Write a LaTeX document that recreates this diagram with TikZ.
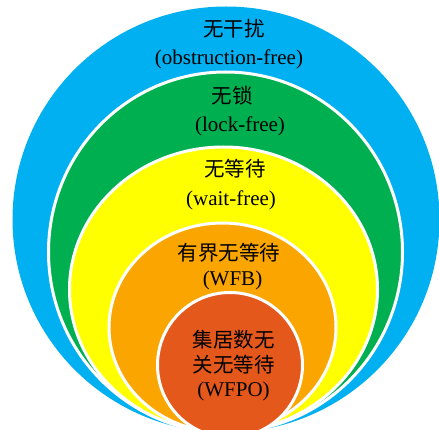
\documentclass[tikz,border=0pt]{standalone}
\usepackage{fontspec}
\setmainfont{Liberation Serif}
\newfontfamily\cjk{Noto Sans CJK SC}
\definecolor{cblue}{RGB}{0,176,240}
\definecolor{cgreen}{RGB}{0,176,80}
\definecolor{cyellow}{RGB}{255,255,0}
\definecolor{corange}{RGB}{250,165,0}
\definecolor{cred}{RGB}{228,88,28}
\tikzset{
  ring/.style={draw=white,line width=3pt},
  lbl/.style={anchor=base,inner sep=0pt,outer sep=0pt,font=\fontsize{21}{25}\selectfont,text=black},
  cjklbl/.style={lbl,font=\fontsize{20.5}{25}\selectfont\cjk}
}
\begin{document}
\begin{tikzpicture}[x=1pt,y=-1pt]
\useasboundingbox (0,0) rectangle (439,430);
\begin{scope}
\clip (0,0) rectangle (439,430);
\fill[cblue] (226,219.5) ellipse [x radius=213.5pt, y radius=213pt];
\filldraw[ring,fill=cgreen] (225.5,252) ellipse [x radius=177pt, y radius=180pt];
\filldraw[ring,fill=cyellow] (223.5,289.5) ellipse [x radius=154pt, y radius=142.5pt];
\filldraw[ring,fill=corange] (222.5,327.5) ellipse [x radius=113.5pt, y radius=104.5pt];
\filldraw[ring,fill=cred] (230,365) ellipse [x radius=72.5pt, y radius=72.5pt];
\end{scope}
\node[cjklbl] (o1) at (234,36.5) {无干扰};
\node[lbl] (o2) at (229,65) {(obstruction-free)};
\node[cjklbl] (l1) at (232,104) {无锁};
\node[lbl] (l2) at (240,132) {(lock-free)};
\node[cjklbl] (w1) at (235,177) {无等待};
\node[lbl] (w2) at (231,206) {(wait-free)};
\node[cjklbl] (b1) at (229,261) {有界无等待};
\node[lbl] (b2) at (232.5,286) {(WFB)};
\node[cjklbl] (p1) at (233.5,347) {集居数无};
\node[cjklbl] (p2) at (233.5,372) {关无等待};
\node[lbl] (p3) at (233.5,396) {(WFPO)};
\end{tikzpicture}
\end{document}
